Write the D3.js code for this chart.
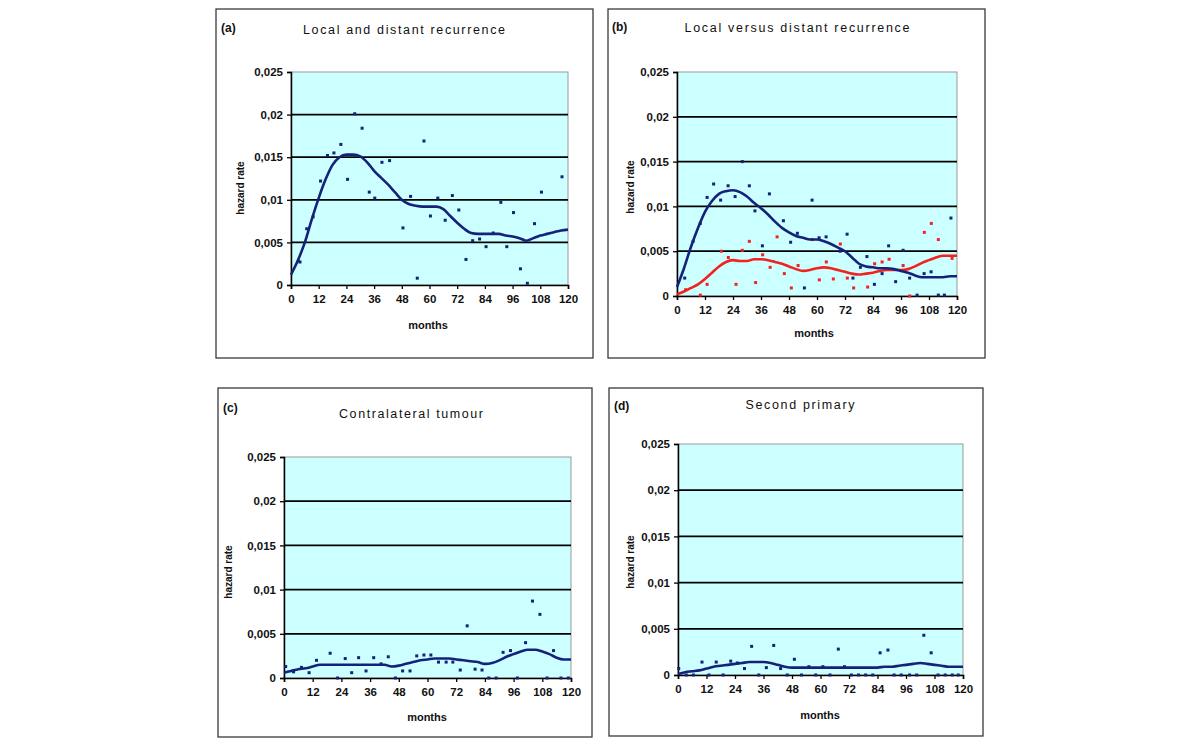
<!DOCTYPE html>
<html><head><meta charset="utf-8">
<script src="https://cdn.jsdelivr.net/npm/d3@7/dist/d3.min.js"></script>
<style>body{margin:0;background:#fff;} svg{display:block;font-family:"Liberation Sans",Arial,sans-serif;}</style>
</head><body><svg id="c" width="1200" height="746"></svg>
<script>
// ---------------- DATA ----------------
const panelTags = ["(a)", "(b)", "(c)", "(d)"];
const panelTitles = ["Local and distant recurrence", "Local versus distant recurrence", "Contralateral tumour", "Second primary"];
const xTickValues = [0, 12, 24, 36, 48, 60, 72, 84, 96, 108, 120];
const yTickValues = [0, 0.005, 0.01, 0.015, 0.02, 0.025];
const yTickLabels = ["0", "0,005", "0,01", "0,015", "0,02", "0,025"];
const xAxisTitle = "months";
const yAxisTitle = "hazard rate";

// smoothed hazard lines (months grid)
const lineMonths = [0,3,6,9,12,15,18,21,24,27,30,33,36,39,42,45,48,51,54,57,60,63,66,69,72,75,78,81,84,87,90,93,96,99,102,105,108,111,114,117,120];
const lineA = [0.0012,0.0029,0.0050,0.0077,0.0102,0.0124,0.0141,0.0150,0.0153,0.0153,0.0151,0.0144,0.0134,0.0126,0.0118,0.0109,0.0100,0.0095,0.0093,0.0092,0.0092,0.0092,0.0089,0.0081,0.0073,0.0066,0.0061,0.0060,0.0060,0.0060,0.0060,0.0058,0.0057,0.0055,0.0052,0.0055,0.0058,0.0060,0.0062,0.0064,0.0065];
const lineBLocal = [0.0010,0.0031,0.0055,0.0076,0.0094,0.0106,0.0114,0.0117,0.0118,0.0116,0.0111,0.0104,0.0098,0.0091,0.0083,0.0076,0.0071,0.0067,0.0065,0.0063,0.0063,0.0061,0.0058,0.0054,0.0050,0.0043,0.0036,0.0033,0.0032,0.0031,0.0031,0.0030,0.0028,0.0026,0.0023,0.0021,0.0021,0.0021,0.0021,0.0022,0.0022];
const lineBDistant = [0.0002,0.0005,0.0009,0.0013,0.0019,0.0026,0.0033,0.0038,0.0040,0.0039,0.0039,0.0041,0.0041,0.0040,0.0038,0.0036,0.0033,0.0030,0.0028,0.0029,0.0031,0.0032,0.0031,0.0029,0.0027,0.0025,0.0024,0.0025,0.0026,0.0028,0.0029,0.0029,0.0029,0.0030,0.0033,0.0037,0.0040,0.0043,0.0045,0.0045,0.0045];
const lineC = [0.0006,0.0008,0.0010,0.0011,0.0013,0.0015,0.0015,0.0015,0.0015,0.0015,0.0015,0.0015,0.0015,0.0015,0.0015,0.0013,0.0014,0.0016,0.0018,0.0020,0.0021,0.0022,0.0022,0.0022,0.0021,0.0020,0.0019,0.0018,0.0016,0.0017,0.0020,0.0024,0.0027,0.0030,0.0032,0.0032,0.0030,0.0027,0.0023,0.0021,0.0021];
const lineD = [0.0001,0.0003,0.0004,0.0005,0.0007,0.0009,0.0010,0.0011,0.0012,0.0013,0.0014,0.0014,0.0014,0.0013,0.0011,0.0009,0.0008,0.0008,0.0008,0.0008,0.0008,0.0008,0.0008,0.0008,0.0008,0.0008,0.0008,0.0008,0.0008,0.0009,0.0009,0.0010,0.0011,0.0012,0.0013,0.0012,0.0011,0.0010,0.0009,0.0009,0.0009];

// observed hazard points
const ptsAMonths = [3.2,3.9,6.8,9.6,12.8,15.8,18.6,21.6,24.5,27.6,30.8,33.9,36.3,39.4,42.7,48.5,51.8,54.7,57.6,60.4,63.6,66.8,69.9,72.7,75.8,78.7,81.7,84.5,87.6,90.9,93.5,96.4,99.4,102.4,105.5,108.5,117.4];
const ptsAValues = [0.0028,0.0027,0.0066,0.0080,0.0122,0.0152,0.0155,0.0165,0.0124,0.0201,0.0184,0.0109,0.0102,0.0144,0.0146,0.0067,0.0104,0.0008,0.0169,0.0081,0.0102,0.0076,0.0105,0.0088,0.0030,0.0052,0.0054,0.0045,0.0061,0.0097,0.0045,0.0085,0.0019,0.0002,0.0072,0.0109,0.0127];
const ptsBLocalMonths = [3.3,6.9,10.0,12.9,15.7,18.7,21.9,24.9,28.0,31.0,33.4,36.6,39.6,45.6,48.7,51.6,54.6,57.9,60.9,63.9,69.9,72.9,75.4,78.6,81.4,84.6,87.9,90.7,93.7,96.9,99.7,102.9,105.9,108.9,112.0,114.6,117.4];
const ptsBLocalValues = [0.0020,0.0061,0.0081,0.0110,0.0125,0.0107,0.0123,0.0111,0.0150,0.0123,0.0095,0.0056,0.0114,0.0084,0.0060,0.0070,0.0009,0.0107,0.0065,0.0066,0.0050,0.0069,0.0020,0.0032,0.0044,0.0013,0.0025,0.0056,0.0016,0.0051,0.0020,0.0001,0.0025,0.0027,0.0001,0.0001,0.0087];
const ptsBDistantMonths = [3.7,10.0,12.9,19.0,22.0,25.3,28.0,31.0,33.7,36.7,39.9,42.9,46.0,49.0,51.9,58.0,61.0,64.0,67.0,70.0,73.0,75.7,81.7,84.7,87.9,90.9,96.9,99.7,106.0,109.0,112.0,117.9];
const ptsBDistantValues = [0.0007,0.0001,0.0013,0.0050,0.0043,0.0013,0.0051,0.0061,0.0015,0.0046,0.0032,0.0066,0.0025,0.0009,0.0034,0.0063,0.0018,0.0038,0.0019,0.0058,0.0020,0.0009,0.0010,0.0036,0.0038,0.0041,0.0034,0.0000,0.0071,0.0081,0.0063,0.0042];
const ptsCMonths = [0.7,4.0,7.3,10.5,13.6,19.3,22.4,25.6,28.3,31.2,34.3,37.5,40.6,43.6,46.6,49.6,52.7,55.5,58.5,61.4,64.6,67.8,70.6,73.7,76.6,79.9,82.8,85.6,88.7,91.6,94.7,97.6,101.0,103.9,107.0,110.0,112.7,115.8,118.9];
const ptsCValues = [0.0013,0.0007,0.0012,0.0006,0.0020,0.0028,0.0000,0.0022,0.0006,0.0023,0.0008,0.0023,0.0016,0.0024,0.0000,0.0008,0.0008,0.0025,0.0026,0.0026,0.0018,0.0018,0.0018,0.0009,0.0059,0.0010,0.0009,0.0000,0.0000,0.0029,0.0031,0.0000,0.0040,0.0087,0.0072,0.0000,0.0031,0.0000,0.0000];
const ptsDMonths = [0.3,3.5,6.5,10.1,13.0,16.1,19.0,22.2,25.0,28.0,31.0,34.0,37.2,40.3,43.2,46.0,49.0,52.0,55.1,58.0,61.0,64.0,67.5,70.1,73.0,76.0,79.0,82.0,85.1,88.4,91.0,94.0,97.5,100.5,103.5,106.6,109.5,112.5,115.5,118.0];
const ptsDValues = [0.0007,0.0000,0.0000,0.0014,0.0000,0.0014,0.0000,0.0015,0.0013,0.0007,0.0031,0.0000,0.0008,0.0032,0.0007,0.0000,0.0017,0.0000,0.0009,0.0000,0.0009,0.0000,0.0028,0.0009,0.0000,0.0000,0.0000,0.0000,0.0024,0.0027,0.0000,0.0000,0.0000,0.0000,0.0043,0.0024,0.0000,0.0000,0.0000,0.0000];

// ---------------- LAYOUT ----------------
const NAVY = "#16227a", RED = "#f2231f";
const layout = [
  {box:[216,9,377,349], plot:[291,72,568,285], tag:[221,32], title:[404,34], titleW:202, yl:[240,188], xl:[428,329]},
  {box:[608,9,377,349], plot:[677,72,957,296], tag:[612,31], title:[797,32], titleW:225, yl:[630,187], xl:[814,337]},
  {box:[218,388,374,349], plot:[284,457,571,678], tag:[223,412], title:[411,418], titleW:144, yl:[228,572], xl:[427,721]},
  {box:[609,388,374,348], plot:[678,444,963,675], tag:[614,410], title:[800,409], titleW:109, yl:[630,562], xl:[820,719]}
];
const panelLines = [
  [{v:lineA, c:NAVY}],
  [{v:lineBDistant, c:RED}, {v:lineBLocal, c:NAVY}],
  [{v:lineC, c:NAVY}],
  [{v:lineD, c:NAVY}]
];
const panelPoints = [
  [{m:ptsAMonths, v:ptsAValues, c:NAVY}],
  [{m:ptsBDistantMonths, v:ptsBDistantValues, c:RED}, {m:ptsBLocalMonths, v:ptsBLocalValues, c:NAVY}],
  [{m:ptsCMonths, v:ptsCValues, c:NAVY}],
  [{m:ptsDMonths, v:ptsDValues, c:NAVY}]
];

const svg = d3.select("#c");

layout.forEach((L, i) => {
  const g = svg.append("g");
  // panel frame
  g.append("rect").attr("x", L.box[0]).attr("y", L.box[1]).attr("width", L.box[2]).attr("height", L.box[3])
    .attr("fill", "#fff").attr("stroke", "#3a3a3a").attr("stroke-width", 1.3);
  g.append("text").attr("x", L.tag[0]).attr("y", L.tag[1]).text(panelTags[i])
    .attr("font-size", 12).attr("font-weight", "bold").attr("fill", "#111");
  g.append("text").attr("x", L.title[0]).attr("y", L.title[1]).attr("text-anchor", "middle")
    .attr("font-size", 12.5).attr("fill", "#111").attr("textLength", L.titleW).attr("lengthAdjust", "spacing")
    .text(panelTitles[i]);

  const [x0, y0, x1, y1] = L.plot;
  const x = d3.scaleLinear().domain([0, 120]).range([x0, x1]);
  const y = d3.scaleLinear().domain([0, 0.025]).range([y1, y0]);

  g.append("rect").attr("x", x0).attr("y", y0).attr("width", x1 - x0).attr("height", y1 - y0)
    .attr("fill", "#ccffff").attr("stroke", "#9a9a9a").attr("stroke-width", 1);

  // gridlines
  g.append("g").selectAll("line").data(yTickValues.filter(d => d > 0 && d < 0.025)).join("line")
    .attr("x1", x0).attr("x2", x1).attr("y1", d => y(d)).attr("y2", d => y(d))
    .attr("stroke", "#000").attr("stroke-width", 1.8);

  // axes
  const ya = g.append("g").attr("transform", `translate(${x0},0)`)
    .call(d3.axisLeft(y).tickValues(yTickValues).tickFormat((d, k) => yTickLabels[k]).tickSize(4).tickPadding(4));
  const xa = g.append("g").attr("transform", `translate(0,${y1})`)
    .call(d3.axisBottom(x).tickValues(xTickValues).tickSize(4).tickPadding(6));
  [ya, xa].forEach(a => {
    a.select(".domain").attr("stroke", "#000").attr("stroke-width", 1.5);
    a.selectAll(".tick line").attr("stroke", "#000").attr("stroke-width", 1.3);
    a.selectAll("text").attr("font-size", 11.5).attr("font-weight", "bold").attr("fill", "#111")
      .attr("font-family", '"Liberation Sans",Arial,sans-serif');
  });

  // axis titles
  g.append("text").attr("transform", `translate(${L.yl[0]},${L.yl[1]}) rotate(-90)`)
    .attr("text-anchor", "middle").attr("dy", "0.35em").attr("font-size", 10).attr("font-weight", "bold")
    .attr("fill", "#111").text(yAxisTitle);
  g.append("text").attr("x", L.xl[0]).attr("y", L.xl[1]).attr("text-anchor", "middle")
    .attr("font-size", 11).attr("font-weight", "bold").attr("fill", "#111").text(xAxisTitle);

  // points
  panelPoints[i].forEach(s => {
    g.append("g").selectAll("rect").data(s.m.map((m, k) => [m, s.v[k]])).join("rect")
      .attr("x", d => x(d[0]) - 1.5).attr("y", d => y(d[1]) - 1.5).attr("width", 3).attr("height", 3)
      .attr("fill", s.c);
  });
  // lines
  panelLines[i].forEach(s => {
    g.append("path").datum(lineMonths.map((m, k) => [m, s.v[k]]))
      .attr("fill", "none").attr("stroke", s.c).attr("stroke-width", 2.6)
      .attr("d", d3.line().x(d => x(d[0])).y(d => y(d[1])).curve(d3.curveMonotoneX));
  });
});
</script></body></html>
